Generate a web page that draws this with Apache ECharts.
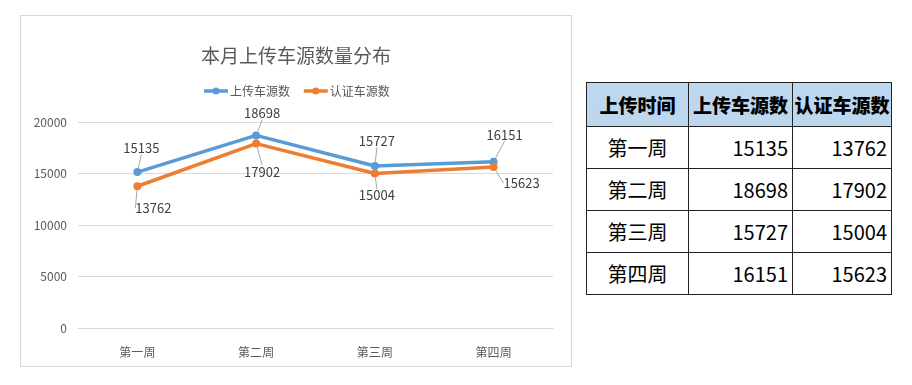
<!DOCTYPE html>
<html>
<head>
<meta charset="utf-8">
<script src="https://cdn.jsdelivr.net/npm/echarts@6/dist/echarts.min.js"></script>
<style>
  html, body { margin: 0; padding: 0; background: #fff; width: 912px; height: 385px; overflow: hidden; }
  #chart { position: absolute; left: 20px; top: 15px; width: 552px; height: 352px; box-sizing: border-box; border: 1px solid #D9D9D9; }
  #tbl { position: absolute; left: 586px; top: 82px; border-collapse: collapse; font-family: "Noto Sans CJK SC", sans-serif; color: #000; }
  #tbl td, #tbl th { border: 1px solid #222; padding: 0 4px; box-sizing: border-box; }
  #tbl th { background: #BDD7EE; font-size: 19px; font-weight: 900; height: 44px; text-align: center; white-space: nowrap; padding: 0 1px; }
  #tbl td { font-size: 20px; height: 42px; }
  #tbl td.c { text-align: center; }
  #tbl td.n { text-align: right; }
</style>
</head>
<body>
<div id="chart"></div>
<table id="tbl"></table>
<script>
const title = '本月上传车源数量分布';
const categories = ['第一周', '第二周', '第三周', '第四周'];
const seriesNames = ['上传车源数', '认证车源数'];
const uploaded = [15135, 18698, 15727, 16151];
const certified = [13762, 17902, 15004, 15623];
const tableHeaders = ['上传时间', '上传车源数', '认证车源数'];
const yTicks = [0, 5000, 10000, 15000, 20000];

// table
const tbl = document.getElementById('tbl');
const colW = [102, 104, 99];
let html = '<tr>' + tableHeaders.map((h, i) => `<th style="width:${colW[i]}px">${h}</th>`).join('') + '</tr>';
categories.forEach((c, i) => {
  html += `<tr><td class="c">${c}</td><td class="n">${uploaded[i]}</td><td class="n">${certified[i]}</td></tr>`;
});
tbl.innerHTML = html;

// label offsets (layout only)
const upOff = [[4, -24], [6, -22], [2, -25], [11, -27]];
const ceOff = [[16, 22], [6, 28], [2, 22], [28, 16]];

const chart = echarts.init(document.getElementById('chart'), null, { renderer: 'canvas' });
const font = '"Noto Sans CJK SC", "Microsoft YaHei", sans-serif';
function mkSeries(name, data, color, off) {
  return {
    name, type: 'line', data,
    symbol: 'circle', symbolSize: 8,
    lineStyle: { width: 3.5, color },
    itemStyle: { color },
    label: { show: true, position: 'inside', color: '#404040', fontSize: 13, fontFamily: font },
    labelLine: { show: true, lineStyle: { color: '#A6A6A6', width: 1 }, smooth: false, length2: 0 },
    labelLayout: (p) => ({ dx: off[p.dataIndex][0], dy: off[p.dataIndex][1] }),
    emphasis: { disabled: true },
    animation: false
  };
}
chart.setOption({
  animation: false,
  textStyle: { fontFamily: font },
  title: {
    text: title, left: 'center', top: 25,
    textStyle: { fontSize: 19, fontWeight: 'normal', color: '#595959', fontFamily: font }
  },
  legend: {
    top: 64, left: 'center', itemWidth: 24, itemHeight: 9, itemGap: 12,
    textStyle: { fontSize: 12, color: '#595959', fontFamily: font, padding: [0, 0, 0, -3] },
    lineStyle: { width: 3.5 },
    data: seriesNames
  },
  grid: { left: 57, right: 18, top: 106, bottom: 38 },
  xAxis: {
    type: 'category', data: categories, boundaryGap: true,
    axisLine: { lineStyle: { color: '#D9D9D9', width: 1 } },
    axisTick: { show: false },
    axisLabel: { color: '#595959', fontSize: 12, margin: 18, fontFamily: font }
  },
  yAxis: {
    type: 'value', min: 0, max: 20000, interval: 5000,
    axisLine: { show: false }, axisTick: { show: false },
    splitLine: { lineStyle: { color: '#D9D9D9', width: 1 } },
    axisLabel: { color: '#595959', fontSize: 12, margin: 11, fontFamily: font,
      formatter: v => yTicks.includes(v) ? String(v) : '' }
  },
  series: [
    mkSeries(seriesNames[0], uploaded, '#5B9BD5', upOff),
    mkSeries(seriesNames[1], certified, '#ED7D31', ceOff)
  ]
});
</script>
</body>
</html>
